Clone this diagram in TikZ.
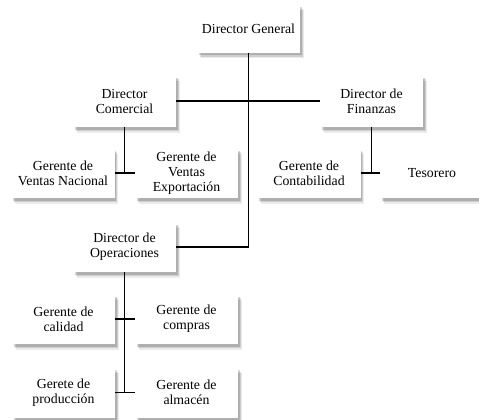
\documentclass[tikz,border=0pt]{standalone}
\usepackage{fontspec}
\setmainfont{Liberation Serif}
\usetikzlibrary{shadows}
\tikzset{
	puesto/.style={fill=white, minimum width=103pt, minimum height=50pt, inner sep=2pt, align=center,
		font=\fontsize{13.8}{15}\selectfont,
		drop shadow={shadow xshift=3.5pt, shadow yshift=-5.5pt, fill=black, opacity=0.08},
		drop shadow={shadow xshift=2.5pt, shadow yshift=-4pt, fill=black, opacity=0.12},
		drop shadow={shadow xshift=1.5pt, shadow yshift=-2.5pt, fill=black, opacity=0.15}},
	linea/.style={line width=1.6pt, color=black}
}

\begin{document}
\begin{tikzpicture}[x=1pt, y=-1pt]
			%%%%% START %%%%%
			
			\useasboundingbox (0, 0) rectangle (479, 420);
			
			\node[puesto, minimum height=48pt] (dg) at (248.5, 29) {Director General};
			
			\node[puesto, minimum height=52pt] (dc) at (124.5, 101) {Director\\Comercial};
			\node[puesto, minimum height=52pt] (df) at (371.5, 101) {Director de\\Finanzas};
			
			\node[puesto] (gvn) at (63, 173) {Gerente de\\Ventas Nacional};
			\node[puesto] (gve) at (186.5, 173) {Gerente de\\Ventas\\Exportación};
			\node[puesto] (gc) at (309, 173) {Gerente de\\Contabilidad};
			\node[puesto] (ts) at (432, 173) {Tesorero};
			
			\node[puesto] (do) at (124.5, 247) {Director de\\Operaciones};
			
			\node[puesto] (gq) at (63.5, 319) {Gerente de\\calidad};
			\node[puesto] (gco) at (186.5, 319) {Gerente de\\compras};
			\node[puesto] (gp) at (63.5, 392.5) {Gerete de\\producción};
			\node[puesto] (ga) at (186.5, 392.5) {Gerente de\\almacén};
			
			% tronco
			\draw[linea] (dg.south) |- (do.east);
			\draw[linea] (dc.east) -- (df.west);
			
			% comercial
			\draw[linea] (dc.south) -- (dc.south |- gvn.east);
			\draw[linea] (gvn.east) -- (gve.west);
			
			% finanzas
			\draw[linea] (df.south) -- (df.south |- gc.east);
			\draw[linea] (gc.east) -- (ts.west);
			
			% operaciones
			\draw[linea] (do.south) -- (do.south |- gp.east);
			\draw[linea] (gq.east) -- (gco.west);
			\draw[linea] (gp.east) -- (ga.west);
			
			%%%%% END %%%%%
		\end{tikzpicture}
\end{document}
